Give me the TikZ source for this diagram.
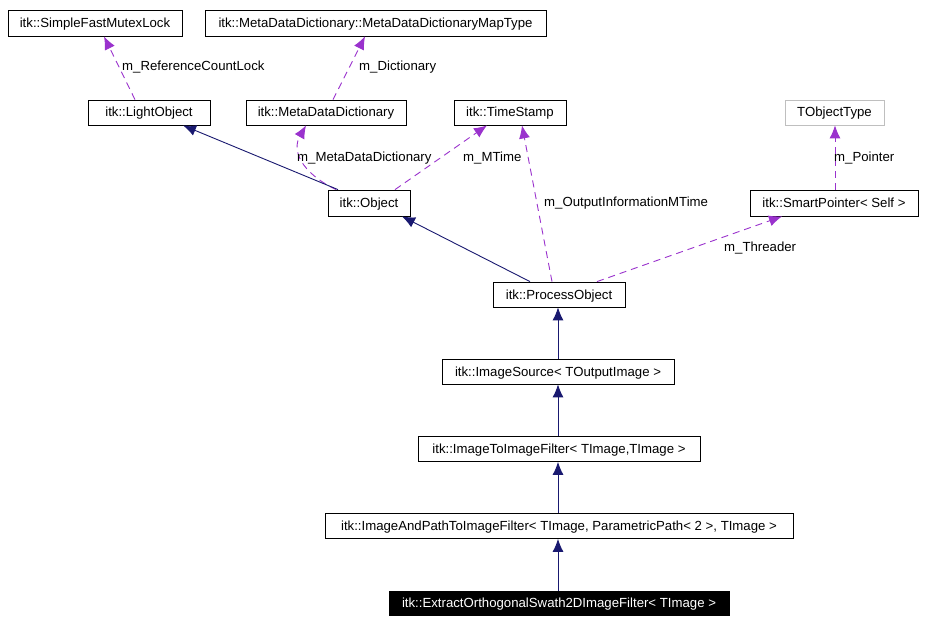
\documentclass[tikz,border=0pt]{standalone}
\usepackage{fontspec}
\setmainfont{Liberation Sans}
\usetikzlibrary{arrows.meta}
\definecolor{navy}{HTML}{191970}
\definecolor{orchid}{HTML}{9A32CD}
\definecolor{greybox}{HTML}{BFBFBF}
\begin{document}
\begin{tikzpicture}[x=1pt,y=-1pt,
  font=\fontsize{13.2}{15}\selectfont,
  cls/.style={draw=black,line width=0.8pt,fill=white,inner sep=0pt,minimum height=25pt,anchor=center,text height=1.1em,text depth=0.2em},
  inh/.style={draw=navy,line width=0.9pt,-{Latex[length=13pt,width=11pt]}},
  use/.style={draw=orchid,line width=0.9pt,dash pattern=on 7pt off 5pt,-{Latex[length=13pt,width=11pt]}},
  lbl/.style={anchor=west,inner sep=0pt,text=black,text height=1.1em,text depth=0.2em}]
\useasboundingbox (0,0) rectangle (926,623);
\fill[white] (0,0) rectangle (926,623);
% classes
\node[cls,minimum width=174pt,minimum height=26pt] (mutex) at (95,23) {itk::SimpleFastMutexLock};
\node[cls,minimum width=341pt,minimum height=26pt] (map) at (375.5,23) {itk::MetaDataDictionary::MetaDataDictionaryMapType};
\node[cls,minimum width=122pt] (light) at (149,112.5) {itk::LightObject};
\node[cls,minimum width=160pt] (mdd) at (326,112.5) {itk::MetaDataDictionary};
\node[cls,minimum width=112pt] (ts) at (510,112.5) {itk::TimeStamp};
\node[cls,draw=greybox,minimum width=99pt] (tobj) at (834.5,112.5) {TObjectType};
\node[cls,minimum width=82pt,minimum height=26pt] (obj) at (369,203) {itk::Object};
\node[cls,minimum width=168pt,minimum height=26pt] (sp) at (834,203) {itk::SmartPointer< Self >};
\node[cls,minimum width=132pt] (po) at (559,294.5) {itk::ProcessObject};
\node[cls,minimum width=232pt] (is) at (558,371.5) {itk::ImageSource< TOutputImage >};
\node[cls,minimum width=282pt] (itif) at (559,449) {itk::ImageToImageFilter< TImage,TImage >};
\node[cls,minimum width=468pt] (iap) at (559,526) {itk::ImageAndPathToImageFilter< TImage, ParametricPath< 2 >, TImage >};
\node[cls,fill=black,text=white,minimum width=340pt,minimum height=24pt] (ext) at (559,603) {itk::ExtractOrthogonalSwath2DImageFilter< TImage >};
% usage edges
\draw[use] (light.north -| 135,0) -- (mutex.south -| 104,0);
\draw[use] (mdd.north -| 333,0) -- (map.south -| 365,0);
\draw[use] (obj.north -| 336,0) .. controls (300,172) and (292,150) .. (mdd.south -| 306,0);
\draw[use] (obj.north -| 395,0) -- (ts.south -| 487,0);
\draw[use] (po.north -| 552,0) -- (ts.south -| 522,0);
\draw[use] (po.north -| 597,0) -- (sp.south -| 782,0);
\draw[use] (sp.north -| 835,0) -- (tobj.south -| 835,0);
% inheritance edges
\draw[inh] (obj.north -| 338,0) -- (light.south -| 183,0);
\draw[inh] (po.north -| 530,0) -- (obj.south -| 402,0);
\draw[inh] (is.north -| 558,0) -- (po.south -| 558,0);
\draw[inh] (itif.north -| 558,0) -- (is.south -| 558,0);
\draw[inh] (iap.north -| 558,0) -- (itif.south -| 558,0);
\draw[inh] (ext.north -| 558,0) -- (iap.south -| 558,0);
% labels
\node[lbl] (l1) at (122,66) {m\_ReferenceCountLock};
\node[lbl] (l2) at (359,66) {m\_Dictionary};
\node[lbl] (l3) at (297,157) {m\_MetaDataDictionary};
\node[lbl] (l4) at (463,157) {m\_MTime};
\node[lbl] (l5) at (544,202) {m\_OutputInformationMTime};
\node[lbl] (l6) at (834,157) {m\_Pointer};
\node[lbl] (l7) at (724,247) {m\_Threader};
\end{tikzpicture}
\end{document}
